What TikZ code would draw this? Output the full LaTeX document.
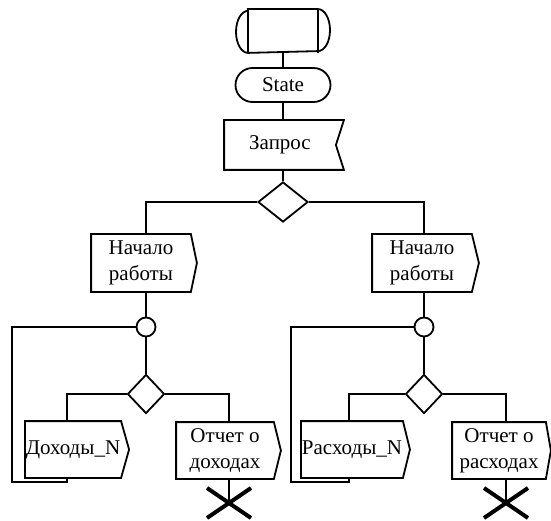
\documentclass[tikz,border=0pt]{standalone}
\usepackage{fontspec}
\setmainfont{Liberation Serif}
\usetikzlibrary{shapes.geometric,shapes.misc}
\begin{document}
\begin{tikzpicture}[x=1pt,y=-1pt,line width=1.8pt,
  every node/.style={font=\fontsize{21}{26}\selectfont,inner sep=0pt},
  blk/.style={draw=none,align=center},
  capsule/.style={rounded rectangle,draw,minimum width=95pt,minimum height=34pt},
  dia/.style={diamond,draw,minimum width=#1},
  junc/.style={circle,draw,minimum size=19pt},
  xmark/.style={line width=4pt}]
\useasboundingbox (0,0) rectangle (551,521);
% top terminator
\node[minimum width=95pt,minimum height=42pt] (top) at (283,31) {};
\draw ([xshift=-35pt]top.north) -- ([xshift=35pt]top.north)
  arc[start angle=90,end angle=-90,x radius=12pt,y radius=21pt]
  -- ([xshift=-35pt]top.south)
  arc[start angle=270,end angle=90,x radius=12pt,y radius=21pt] -- cycle;
\draw ([xshift=-35pt]top.north) -- ([xshift=-35pt]top.south);
\draw ([xshift=35pt]top.north) -- ([xshift=35pt]top.south);
% state
\node[capsule] (st) at (283,85) {State};
% request
\node[blk,minimum width=118pt,minimum height=48pt] (q) at (284,145) {\hspace*{-8pt}Запрос};
\draw (q.north west) -- (q.north east) -- ([xshift=-8pt]q.east) -- (q.south east) -- (q.south west) -- cycle;
\node[dia=50pt,minimum height=40pt] (d0) at (283,202) {};
% left branch
\node[blk,minimum width=98pt,minimum height=56pt] (n1) at (141,263) {Начало\\работы};
\draw (n1.north west) -- (n1.north east) -- ([xshift=6pt]n1.east) -- (n1.south east) -- (n1.south west) -- cycle;
\node[junc] (c1) at (146,327) {};
\node[dia=37pt,minimum height=39pt] (dd1) at (146,394) {};
\node[blk,minimum width=94pt,minimum height=55pt] (dn1) at (73,449.5) {Доходы\_N};
\draw (dn1.north west) -- (dn1.north east) -- ([xshift=8pt]dn1.east) -- (dn1.south east) -- (dn1.south west) -- cycle;
\node[blk,minimum width=96pt,minimum height=55pt] (o1) at (225,450.5) {Отчет о\\доходах};
\draw (o1.north west) -- (o1.north east) -- ([xshift=7pt]o1.east) -- (o1.south east) -- (o1.south west) -- cycle;
\coordinate (bL1) at (67,0);
\coordinate (bR1) at (229,0);
\coordinate (L1) at (12,482);
\coordinate (x1) at (229,503);
% right branch
\node[blk,minimum width=98pt,minimum height=56pt] (n2) at (422,263) {Начало\\работы};
\draw (n2.north west) -- (n2.north east) -- ([xshift=7pt]n2.east) -- (n2.south east) -- (n2.south west) -- cycle;
\node[junc] (c2) at (424,327) {};
\node[dia=37pt,minimum height=39pt] (dd2) at (424,394) {};
\node[blk,minimum width=98pt,minimum height=55pt] (dn2) at (352,449.5) {Расходы\_N};
\draw (dn2.north west) -- (dn2.north east) -- ([xshift=7pt]dn2.east) -- (dn2.south east) -- (dn2.south west) -- cycle;
\node[blk,minimum width=92pt,minimum height=55pt] (o2) at (499,450.5) {Отчет о\\расходах};
\draw (o2.north west) -- (o2.north east) -- ([xshift=5pt]o2.east) -- (o2.south east) -- (o2.south west) -- cycle;
\coordinate (bL2) at (349,0);
\coordinate (bR2) at (506,0);
\coordinate (L2) at (291,482);
\coordinate (x2) at (506,503);
% connectors
\draw (top.south) -- (st.north);
\draw (st.south) -- (q.north -| st.south);
\draw (q.south -| d0.north) -- (d0.north);
\draw (d0.west) -| (n1.north -| c1);
\draw (d0.east) -| (n2.north -| c2);
\foreach \i in {1,2}{
  \draw (n\i.south -| c\i) -- (c\i.north);
  \draw (c\i.south) -- (dd\i.north);
  \draw (dd\i.west) -| (dn\i.north -| bL\i);
  \draw (dd\i.east) -| (o\i.north -| bR\i);
  \draw (c\i.west) -| (L\i) -| (dn\i.south -| bL\i);
  \draw (o\i.south -| x\i) -- (x\i);
  \draw[xmark] ([shift={(-22pt,-15pt)}]x\i) -- ([shift={(22pt,15pt)}]x\i);
  \draw[xmark] ([shift={(-22pt,15pt)}]x\i) -- ([shift={(22pt,-15pt)}]x\i);
}
\end{tikzpicture}
\end{document}
